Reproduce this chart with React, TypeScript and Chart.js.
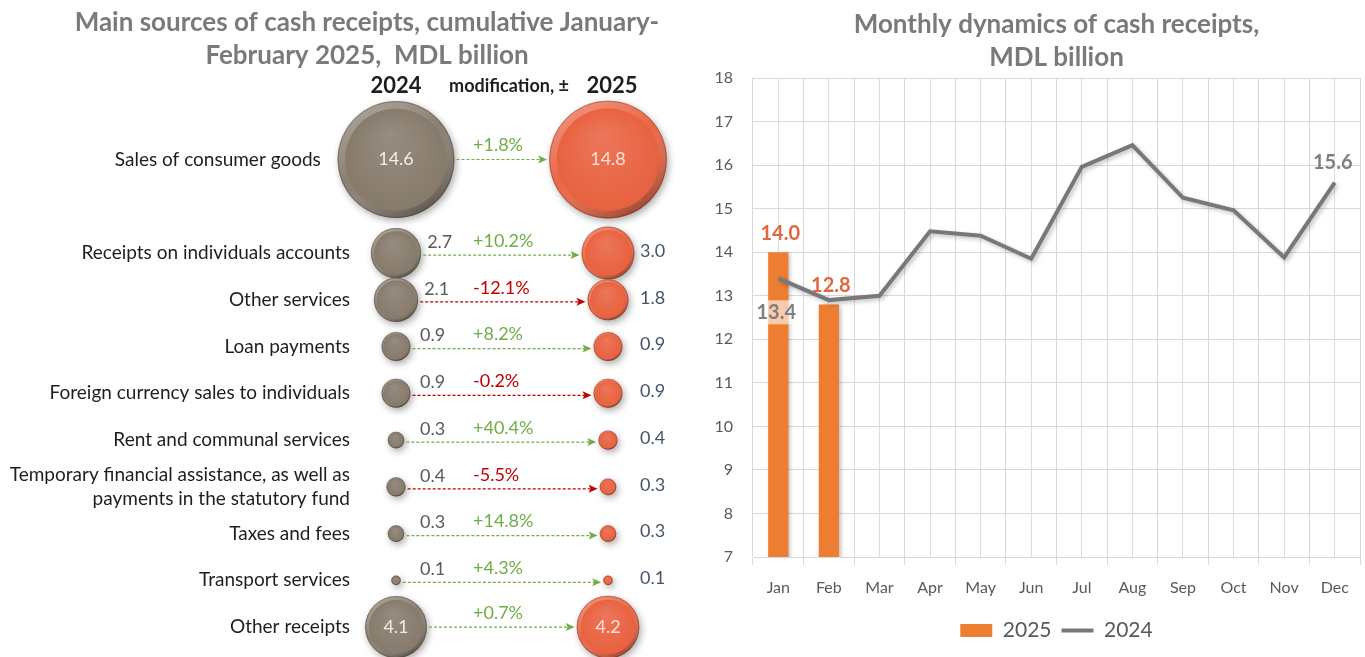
import React, { useEffect, useRef } from "react";
import { Chart, registerables } from "chart.js";

Chart.register(...registerables);

const FONT = "Lato, 'Noto Sans', sans-serif";

// ---------- Left panel data ----------
const sources: (string | string[])[] = [
  "Sales of consumer goods      ",
  "Receipts on individuals accounts",
  "Other services",
  "Loan payments",
  "Foreign currency sales to individuals",
  "Rent and communal services",
  ["Temporary financial assistance, as well as", "payments in the statutory fund"],
  "Taxes and fees",
  "Transport services",
  "Other receipts",
];
const sums2024 = [14.6, 2.7, 2.1, 0.9, 0.9, 0.3, 0.4, 0.3, 0.1, 4.1];
const sums2025 = [14.8, 3.0, 1.8, 0.9, 0.9, 0.4, 0.3, 0.3, 0.1, 4.2];
const changes = [1.8, 10.2, -12.1, 8.2, -0.2, 40.4, -5.5, 14.8, 4.3, 0.7];
const leftTitle = ["Main sources of cash receipts, cumulative January-", "February 2025,  MDL billion"];
const leftHeaders = ["2024", "modification, \u00b1", "2025"];

// ---------- Right panel data ----------
const months = ["Jan", "Feb", "Mar", "Apr", "May", "Jun", "Jul", "Aug", "Sep", "Oct", "Nov", "Dec"];
const monthly2025 = [14.0, 12.8];
const monthly2024 = [13.4, 12.9, 13.0, 14.48, 14.38, 13.85, 15.96, 16.46, 15.25, 14.96, 13.88, 15.6];
const rightTitle = ["Monthly dynamics of cash receipts,", "MDL billion"];
const yMin = 7;
const yMax = 18;

// layout helpers (row slot: first row takes a double slot)
const rowPos = (i: number) => (i === 0 ? 0 : i + 1);
const bubbleR = (v: number) => 15.3 * Math.sqrt(v);

const bubbleStyle = {
  id: "bubbleStyle",
  beforeDatasetDraw(chart: any) {
    const ctx = chart.ctx;
    ctx.save();
    ctx.shadowColor = "rgba(0,0,0,0.32)";
    ctx.shadowBlur = 7;
    ctx.shadowOffsetX = 2;
    ctx.shadowOffsetY = 3;
  },
  afterDatasetDraw(chart: any, args: any) {
    const ctx = chart.ctx;
    ctx.restore();
    const meta = chart.getDatasetMeta(args.index);
    meta.data.forEach((el: any) => {
      const x = el.x;
      const y = el.y;
      const r = el.options.radius;
      ctx.save();
      ctx.beginPath();
      ctx.arc(x, y, r, 0, Math.PI * 2);
      ctx.arc(x, y, r * 0.87, 0, Math.PI * 2, true);
      const g = ctx.createLinearGradient(x - r * 0.6, y - r, x + r * 0.6, y + r);
      g.addColorStop(0, "rgba(255,255,255,0.32)");
      g.addColorStop(0.45, "rgba(255,255,255,0.04)");
      g.addColorStop(1, "rgba(0,0,0,0.4)");
      ctx.fillStyle = g;
      ctx.fill();
      ctx.beginPath();
      ctx.arc(x, y, r * 0.87, 0, Math.PI * 2);
      const rg = ctx.createRadialGradient(x - r * 0.1, y - r * 0.45, 0, x, y, r * 0.9);
      rg.addColorStop(0, "rgba(255,255,255,0.14)");
      rg.addColorStop(1, "rgba(255,255,255,0)");
      ctx.fillStyle = rg;
      ctx.fill();
      ctx.beginPath();
      ctx.arc(x, y, r - 0.5, 0, Math.PI * 2);
      ctx.strokeStyle = "rgba(0,0,0,0.22)";
      ctx.lineWidth = 1;
      ctx.stroke();
      ctx.restore();
    });
  },
};

const leftLabels = {
  id: "leftLabels",
  afterDraw(chart: any) {
    const ctx = chart.ctx;
    const xS = chart.scales.x;
    const yS = chart.scales.y;
    const m0 = chart.getDatasetMeta(0);
    const m1 = chart.getDatasetMeta(1);
    const x0 = xS.getPixelForValue(0);
    const x1 = xS.getPixelForValue(1);
    ctx.save();
    ctx.textBaseline = "middle";
    ctx.textAlign = "center";
    ctx.fillStyle = "#1e1e1e";
    ctx.font = `bold 22px ${FONT}`;
    ctx.fillText(leftHeaders[0], x0, 86);
    ctx.fillText(leftHeaders[2], x1 + 4, 86);
    ctx.font = `bold 18px ${FONT}`;
    ctx.fillText(leftHeaders[1], (x0 + x1) / 2 + 7, 86);

    sources.forEach((_, i) => {
      const y = yS.getPixelForValue(rowPos(i));
      const r0 = m0.data[i].options.radius;
      const r1 = m1.data[i].options.radius;
      const big = r0 > 28;
      const ay = big ? y : y + 2;
      const col = changes[i] >= 0 ? "#70ad47" : "#c00000";
      const sx = x0 + r0 + 2;
      const ex = x1 - r1 - 2;
      ctx.save();
      ctx.strokeStyle = col;
      ctx.lineWidth = 1.2;
      ctx.setLineDash([3, 2]);
      ctx.beginPath();
      ctx.moveTo(sx, ay);
      ctx.lineTo(ex - 7, ay);
      ctx.stroke();
      ctx.restore();
      ctx.fillStyle = col;
      ctx.beginPath();
      ctx.moveTo(ex, ay);
      ctx.lineTo(ex - 9, ay - 4);
      ctx.lineTo(ex - 7, ay);
      ctx.lineTo(ex - 9, ay + 4);
      ctx.closePath();
      ctx.fill();
      ctx.font = `18px ${FONT}`;
      ctx.textAlign = "left";
      ctx.fillStyle = col;
      const pct = (changes[i] > 0 ? "+" : "") + changes[i].toFixed(1) + "%";
      ctx.fillText(pct, (x0 + x1) / 2 - 29, ay - 14);
      if (big) {
        ctx.textAlign = "center";
        ctx.fillStyle = "#f4ece2";
        ctx.fillText(sums2024[i].toFixed(1), x0, y);
      } else {
        ctx.textAlign = "left";
        ctx.fillStyle = "#595959";
        ctx.fillText(sums2024[i].toFixed(1), x0 + Math.max(r0 + 6, 24), y - 11);
      }
      if (r1 > 28) {
        ctx.textAlign = "center";
        ctx.fillStyle = "#fde3d6";
        ctx.fillText(sums2025[i].toFixed(1), x1, y);
      } else {
        ctx.textAlign = "left";
        ctx.fillStyle = "#44546a";
        ctx.fillText(sums2025[i].toFixed(1), x1 + 32, y - 2);
      }
    });
    ctx.restore();
  },
};

const rightShadow = {
  id: "rightShadow",
  beforeDatasetDraw(chart: any) {
    const ctx = chart.ctx;
    ctx.save();
    ctx.shadowColor = "rgba(0,0,0,0.25)";
    ctx.shadowBlur = 4;
    ctx.shadowOffsetX = 2;
    ctx.shadowOffsetY = 2;
  },
  afterDatasetDraw(chart: any) {
    chart.ctx.restore();
  },
};

const rightLabels = {
  id: "rightLabels",
  afterDatasetsDraw(chart: any) {
    const ctx = chart.ctx;
    ctx.save();
    ctx.textAlign = "center";
    ctx.textBaseline = "middle";
    ctx.font = `bold 20px ${FONT}`;
    const bars = chart.getDatasetMeta(0).data;
    bars.forEach((el: any, i: number) => {
      ctx.fillStyle = "#e2673f";
      ctx.fillText(monthly2025[i].toFixed(1), el.x + 2, el.y - 19);
    });
    const pts = chart.getDatasetMeta(1).data;
    const first = pts[0];
    const last = pts[pts.length - 1];
    const t0 = monthly2024[0].toFixed(1);
    const w0 = ctx.measureText(t0).width;
    ctx.fillStyle = "rgba(255,255,255,0.6)";
    ctx.fillRect(first.x - 2 - w0 / 2 - 3, first.y + 22, w0 + 6, 24);
    ctx.fillStyle = "#7f7f7f";
    ctx.fillText(t0, first.x - 2, first.y + 34);
    ctx.fillText(monthly2024[monthly2024.length - 1].toFixed(1), last.x - 2, last.y - 20);
    ctx.restore();
  },
};

export default function App() {
  const leftRef = useRef<HTMLCanvasElement | null>(null);
  const rightRef = useRef<HTMLCanvasElement | null>(null);

  useEffect(() => {
    const left = new Chart(leftRef.current as HTMLCanvasElement, {
      type: "bubble",
      data: {
        datasets: [
          {
            label: "2024",
            data: sums2024.map((v, i) => ({ x: 0, y: rowPos(i), r: bubbleR(v) })),
            backgroundColor: "#867a6b",
            borderWidth: 0,
            clip: false,
          },
          {
            label: "2025",
            data: sums2025.map((v, i) => ({ x: 1, y: rowPos(i), r: bubbleR(v) })),
            backgroundColor: "#e8613f",
            borderWidth: 0,
            clip: false,
          },
        ],
      },
      options: {
        animation: false,
        responsive: false,
        events: [],
        layout: { autoPadding: false, padding: 0 },
        plugins: {
          legend: { display: false },
          tooltip: { enabled: false },
          title: {
            display: true,
            text: leftTitle,
            color: "#7a7a7a",
            font: { family: FONT, size: 26, weight: "bold", lineHeight: 1.27 },
            padding: { top: 6, bottom: 8 },
          },
        },
        scales: {
          x: { type: "linear", display: false, min: -0.1698, max: 1.5943 },
          y: {
            type: "linear",
            reverse: true,
            min: -1.7,
            max: 10.64,
            grid: { display: false, drawTicks: false },
            border: { display: false },
            afterBuildTicks: (s: any) => {
              s.ticks = sources.map((_, i) => ({ value: rowPos(i) }));
            },
            afterFit: (s: any) => {
              s.width = 360;
              s.paddingTop = 0;
              s.paddingBottom = 0;
            },
            ticks: {
              autoSkip: false,
              padding: 10,
              color: "#1e1e1e",
              font: { family: FONT, size: 19, lineHeight: 1.26 },
              callback: (val: any) => {
                const i = sources.findIndex((_, k) => rowPos(k) === Number(val));
                return i >= 0 ? (sources[i] as any) : "";
              },
            },
          },
        },
      } as any,
      plugins: [bubbleStyle, leftLabels],
    } as any);

    const right = new Chart(rightRef.current as HTMLCanvasElement, {
      type: "bar",
      data: {
        labels: months,
        datasets: [
          {
            type: "bar",
            label: "2025",
            data: monthly2025,
            backgroundColor: "#ed7d31",
            barPercentage: 0.4,
            categoryPercentage: 1,
            pointStyle: "rect",
            order: 2,
          },
          {
            type: "line",
            label: "2024",
            data: monthly2024,
            borderColor: "#787878",
            backgroundColor: "#787878",
            borderWidth: 4,
            pointRadius: 0,
            pointStyle: "line",
            tension: 0,
            order: 1,
          },
        ],
      },
      options: {
        animation: false,
        responsive: false,
        events: [],
        layout: { autoPadding: false, padding: { left: 0, right: 5, top: 0, bottom: 6 } },
        plugins: {
          tooltip: { enabled: false },
          title: {
            display: true,
            fullSize: false,
            text: rightTitle,
            color: "#7a7a7a",
            font: { family: FONT, size: 26, weight: "bold", lineHeight: 1.27 },
            padding: { top: 8, bottom: 4 },
          },
          legend: {
            position: "bottom",
            fullSize: false,
            labels: {
              usePointStyle: true,
              pointStyleWidth: 32,
              boxHeight: 13,
              color: "#595959",
              padding: 10,
              font: { family: FONT, size: 21 },
              sort: (a: any, b: any) => a.datasetIndex - b.datasetIndex,
            },
          },
        },
        scales: {
          x: {
            offset: true,
            grid: { offset: true, color: "#d9d9d9", tickLength: 8 },
            border: { color: "#d9d9d9" },
            ticks: { padding: 13, color: "#595959", font: { family: FONT, size: 16 }, maxRotation: 0 },
            afterFit: (s: any) => {
              s.height = 53;
            },
          },
          x2: {
            type: "category",
            position: "bottom",
            offset: true,
            grid: { offset: false, color: "#dddddd", drawTicks: false },
            border: { display: false },
            ticks: { display: false },
          },
          y: {
            min: yMin,
            max: yMax,
            grid: { color: "#d9d9d9", drawTicks: false },
            border: { display: false },
            ticks: { stepSize: 1, padding: 20, color: "#595959", font: { family: FONT, size: 16 } },
            afterFit: (s: any) => {
              s.width = 63;
            },
          },
        },
      } as any,
      plugins: [rightShadow, rightLabels],
    } as any);

    return () => {
      left.destroy();
      right.destroy();
    };
  }, []);

  return (
    <div style={{ position: "absolute", left: 0, top: 0, width: 1365, height: 657, background: "#fff" }}>
      <canvas ref={rightRef} width={675} height={657} style={{ position: "absolute", left: 690, top: 0 }} />
      <canvas ref={leftRef} width={734} height={657} style={{ position: "absolute", left: 0, top: 0 }} />
    </div>
  );
}
